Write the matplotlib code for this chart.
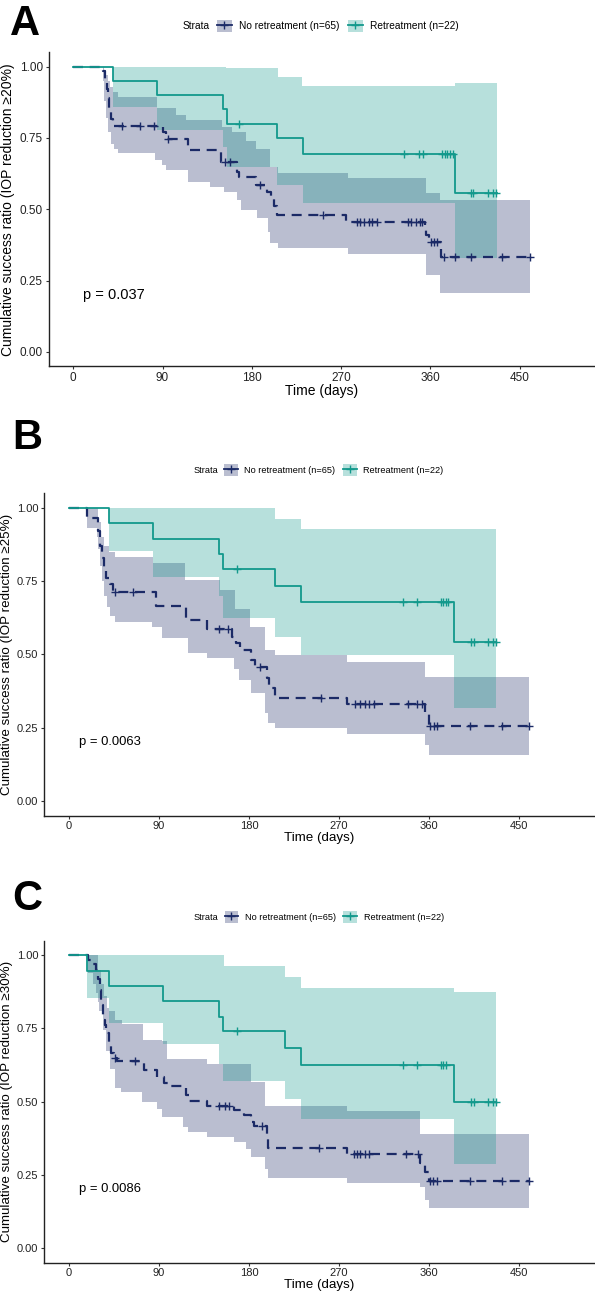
import numpy as np
import matplotlib
matplotlib.use("Agg")
import matplotlib.pyplot as plt
from matplotlib.patches import Patch
from matplotlib.lines import Line2D

plt.rcParams.update({"font.family": ["Liberation Sans", "DejaVu Sans"]})

NAVY, TEAL = "#1B2A66", "#12998C"
W, H = 595, 1297

# ---------------- data (days, survival) ----------------
# Panel A  (IOP reduction >=20%)
A_NR_T = [0, 29.6, 31.9, 33.6, 35, 36.3, 38.3, 40, 90.6, 93, 115.8, 149.4, 165, 167, 184.7,
          194.8, 199, 202, 205, 275.4, 354.4, 356, 359, 370.5]
A_NR_S = [1.0, 0.985, 0.954, 0.92, 0.89, 0.846, 0.815, 0.792, 0.77, 0.745, 0.708, 0.667, 0.63,
          0.614, 0.585, 0.562, 0.535, 0.51, 0.48, 0.457, 0.43, 0.41, 0.386, 0.332]
A_NR_CENS = [48.7, 67.2, 81.6, 95, 152.8, 157.8, 188, 251.3, 285.6, 289, 293.6, 297.7, 301.1,
             306.3, 337.2, 340.6, 345.8, 349.1, 351.7, 361, 364, 367, 373.3, 385.3, 400.8,
             432.7, 460.2]
A_NR_LO_T = [0, 29.6, 31, 33, 35, 38, 41, 45, 82.8, 89.7, 93.1, 115.5, 137.8, 151.6, 165.3,
             168.8, 185.3, 196, 198, 206.6, 277, 356, 369.8]
A_NR_LO = [1.0, 0.95, 0.88, 0.82, 0.77, 0.73, 0.71, 0.696, 0.673, 0.655, 0.638, 0.597, 0.579,
           0.562, 0.533, 0.498, 0.468, 0.42, 0.381, 0.363, 0.343, 0.27, 0.205]
A_NR_HI_T = [0, 29.6, 31, 33, 35, 37, 40, 45, 84, 104, 114, 150, 160, 174.6, 184.7, 198, 206,
             277, 356, 370]
A_NR_HI = [1.0, 1.0, 0.99, 0.97, 0.95, 0.93, 0.912, 0.895, 0.854, 0.83, 0.813, 0.79, 0.77,
           0.74, 0.71, 0.65, 0.626, 0.609, 0.556, 0.533]
A_R_T = [0, 40.3, 84, 150.5, 154.5, 205.8, 231.3, 384.6]
A_R_S = [1.0, 0.95, 0.90, 0.852, 0.80, 0.749, 0.694, 0.556]
A_R_CENS = [166.9, 333.7, 348.1, 352.2, 371.5, 374.3, 377, 379.8, 382.6, 400.8, 403.5, 417.9,
            423, 426.6]
A_R_LO_T = [0, 40.3, 84, 150.5, 154.5, 205.8, 231.3, 384.6]
A_R_LO = [1.0, 0.86, 0.778, 0.72, 0.65, 0.585, 0.521, 0.328]
A_R_HI_T = [0, 154, 206, 231, 385]
A_R_HI = [1.0, 0.994, 0.965, 0.932, 0.942]

# Panel B  (IOP reduction >=25%)
B_NR_T = [0, 18.3, 29.3, 31, 32.7, 35, 37, 41, 44, 86.6, 116.6, 137.8, 163.4, 166.8, 171, 182,
          186, 197.5, 200, 206, 277.7, 355.5, 359.6]
B_NR_S = [1.0, 0.966, 0.92, 0.87, 0.83, 0.79, 0.76, 0.74, 0.714, 0.665, 0.617, 0.585, 0.56,
          0.539, 0.515, 0.481, 0.458, 0.42, 0.385, 0.35, 0.331, 0.30, 0.257]
B_NR_CENS = [46, 64.4, 149.7, 158.6, 190.7, 252, 286.2, 291.3, 295.8, 299.9, 305, 339.1, 347.7,
             352.8, 361.3, 364.7, 368.1, 400.6, 433, 460.3]
B_NR_LO_T = [0, 18.3, 27.7, 29.3, 31, 33, 35, 38, 41, 45.6, 83.2, 93.4, 119, 137.8, 165, 170,
             182, 195.8, 199.2, 206, 277.7, 355.5, 359.6]
B_NR_LO = [1.0, 0.93, 0.90, 0.86, 0.80, 0.75, 0.70, 0.66, 0.63, 0.611, 0.593, 0.555, 0.504,
           0.487, 0.45, 0.413, 0.367, 0.30, 0.265, 0.248, 0.228, 0.191, 0.157]
B_NR_HI_T = [0, 29, 32, 35, 40, 46, 84.3, 116, 151, 166, 181, 195.8, 206, 277.7, 355.5]
B_NR_HI = [1.0, 0.95, 0.9, 0.87, 0.85, 0.833, 0.81, 0.753, 0.719, 0.655, 0.594, 0.515, 0.498,
           0.475, 0.424]
B_R_T = [0, 40.3, 84.3, 150, 153.7, 206.3, 231.6, 385.2]
B_R_S = [1.0, 0.947, 0.893, 0.842, 0.79, 0.733, 0.677, 0.541]
B_R_CENS = [167.7, 334, 347.7, 371.5, 374, 376.7, 379.4, 402.3, 405, 419.3, 424.4, 427.2]
B_R_LO_T = [0, 40.3, 84.3, 150, 153.7, 206.3, 231.6, 385.2]
B_R_LO = [1.0, 0.852, 0.765, 0.70, 0.625, 0.56, 0.498, 0.316]
B_R_HI_T = [0, 154.9, 206.1, 231.6]
B_R_HI = [1.0, 0.998, 0.961, 0.926]

# Panel C  (IOP reduction >=30%)
C_NR_T = [0, 19.3, 24, 27, 29.2, 30.5, 32, 34, 35.5, 37, 39.5, 42, 45, 48, 74.6, 88.3, 95, 99,
          116.6, 120, 137.8, 165, 175.3, 182, 185, 197.5, 199, 277.7, 351, 355.5, 359.6]
C_NR_S = [1.0, 0.985, 0.97, 0.95, 0.92, 0.88, 0.83, 0.78, 0.76, 0.733, 0.69, 0.665, 0.65, 0.639,
          0.608, 0.583, 0.565, 0.554, 0.523, 0.503, 0.486, 0.47, 0.455, 0.43, 0.418, 0.38, 0.341,
          0.322, 0.29, 0.26, 0.228]
C_NR_CENS = [45.6, 66, 149.7, 156, 160, 193, 250.4, 284.5, 288, 291.3, 295.8, 299.9, 337.4,
             349.4, 361, 364, 368, 400.6, 433, 460.3]
C_NR_LO_T = [0, 19.3, 24, 27, 29.2, 30.2, 33.7, 37, 40.5, 45.6, 52.4, 72.9, 88.3, 93.4, 113.9,
             119, 137.8, 165, 177, 182, 195.8, 199, 277.7, 351, 355.5, 359.6]
C_NR_LO = [1.0, 0.94, 0.90, 0.87, 0.84, 0.81, 0.746, 0.673, 0.611, 0.548, 0.531, 0.497, 0.474,
           0.446, 0.412, 0.395, 0.378, 0.361, 0.338, 0.31, 0.27, 0.24, 0.223, 0.209, 0.163, 0.135]
C_NR_HI_T = [0, 29, 32, 35, 38, 40.3, 46, 52.7, 74.3, 93.4, 98, 138, 182, 196, 277.7, 351]
C_NR_HI = [1.0, 0.95, 0.9, 0.86, 0.82, 0.808, 0.78, 0.764, 0.71, 0.707, 0.644, 0.627, 0.567,
           0.486, 0.469, 0.39]
C_R_T = [0, 18.3, 40.3, 94.3, 150, 153.7, 216, 231.6, 385.2]
C_R_S = [1.0, 0.947, 0.896, 0.842, 0.789, 0.741, 0.682, 0.625, 0.50]
C_R_CENS = [167.7, 334, 347.7, 371.5, 374, 376.7, 402.3, 405, 419.3, 424.4, 427.2]
C_R_LO_T = [0, 18.3, 40.3, 94.3, 150, 153.7, 216, 231.6, 385.2]
C_R_LO = [1.0, 0.854, 0.769, 0.695, 0.63, 0.571, 0.508, 0.44, 0.288]
C_R_HI_T = [0, 154.9, 215.6, 232, 385.2]
C_R_HI = [1.0, 0.964, 0.927, 0.888, 0.876]

NR_END, R_END = 460.2, 427.0
X_TICKS = [0, 90, 180, 270, 360, 450]
Y_TICKS = [0.0, 0.25, 0.5, 0.75, 1.0]
Y_TICKLABELS = ["0.00", "0.25", "0.50", "0.75", "1.00"]
STRATA = ["No retreatment (n=65)", "Retreatment (n=22)"]
PANELS = [
    dict(letter="A", thr="20%", p="p = 0.037",
         nr=(A_NR_T, A_NR_S, A_NR_CENS, A_NR_LO_T, A_NR_LO, A_NR_HI_T, A_NR_HI),
         r=(A_R_T, A_R_S, A_R_CENS, A_R_LO_T, A_R_LO, A_R_HI_T, A_R_HI)),
    dict(letter="B", thr="25%", p="p = 0.0063",
         nr=(B_NR_T, B_NR_S, B_NR_CENS, B_NR_LO_T, B_NR_LO, B_NR_HI_T, B_NR_HI),
         r=(B_R_T, B_R_S, B_R_CENS, B_R_LO_T, B_R_LO, B_R_HI_T, B_R_HI)),
    dict(letter="C", thr="30%", p="p = 0.0086",
         nr=(C_NR_T, C_NR_S, C_NR_CENS, C_NR_LO_T, C_NR_LO, C_NR_HI_T, C_NR_HI),
         r=(C_R_T, C_R_S, C_R_CENS, C_R_LO_T, C_R_LO, C_R_HI_T, C_R_HI)),
]

# layout in pixels: axes box (left, top, right, bottom), letter baseline, legend row;
# panel A was exported with slightly larger text than B and C
LAYOUT = [
    dict(box=(48.5, 52.4, 594, 366.2), letter=(10, 35), leg_y=26, strata_x=183, key_x=216.5,
         ylab_x=8, fs_leg=7.3, fs_tick=8.5, fs_lab=10, fs_p=10.5),
    dict(box=(44, 493, 594, 815.7), letter=(12, 449), leg_y=470, strata_x=193.5, key_x=224,
         ylab_x=7, fs_leg=6.6, fs_tick=8, fs_lab=9.6, fs_p=9.4),
    dict(box=(44, 940.6, 594, 1262.5), letter=(12, 910), leg_y=917, strata_x=194, key_x=224.5,
         ylab_x=7, fs_leg=6.6, fs_tick=8, fs_lab=9.6, fs_p=9.4),
]


def step_val(ts, vs, t):
    i = np.searchsorted(ts, t, side="right") - 1
    return np.asarray(vs)[i]


def draw_band(ax, grp, end, color):
    t, s, cens, lo_t, lo, hi_t, hi = grp
    grid = np.union1d(np.union1d(lo_t, hi_t), [end])
    ax.fill_between(grid, step_val(lo_t, lo, grid), step_val(hi_t, hi, grid),
                    step="post", color=color, alpha=0.3, lw=0)


def draw_curve(ax, grp, end, color, dashed):
    t, s, cens, *_ = grp
    tt = np.append(t, end)
    ss = np.append(s, s[-1])
    ln, = ax.step(tt, ss, where="post", color=color, lw=1.6 if dashed else 1.3)
    if dashed:
        ln.set_dashes((4.5, 3))
    ax.plot(cens, step_val(t, s, cens), "+", color=color, ms=5.5, mew=1.0, lw=0)


fig = plt.figure(figsize=(W / 100, H / 100), dpi=100)

for pan, lay in zip(PANELS, LAYOUT):
    l, t, r, b = lay["box"]
    ax = fig.add_axes([l / W, 1 - b / H, (r - l) / W, (b - t) / H])
    draw_band(ax, pan["nr"], NR_END, NAVY)
    draw_band(ax, pan["r"], R_END, TEAL)
    draw_curve(ax, pan["nr"], NR_END, NAVY, True)
    draw_curve(ax, pan["r"], R_END, TEAL, False)
    ax.set_xlim(-25, 525)
    ax.set_ylim(-0.05, 1.05)
    ax.set_xticks(X_TICKS)
    ax.set_yticks(Y_TICKS)
    ax.set_yticklabels(Y_TICKLABELS)
    for sp in ["top", "right"]:
        ax.spines[sp].set_visible(False)
    for sp in ["left", "bottom"]:
        ax.spines[sp].set_linewidth(1.0)
        ax.spines[sp].set_color("#222222")
    ax.tick_params(length=2.5, width=0.8, color="#333333", labelsize=lay["fs_tick"],
                   labelcolor="#222222", pad=1.5)
    ax.set_xlabel("Time (days)", fontsize=lay["fs_lab"], labelpad=0.5)
    ax.text(10, 0.2, pan["p"], fontsize=lay["fs_p"], ha="left", va="center")

    # y label, panel letter and the legend row are placed in figure pixels
    fig.text(lay["ylab_x"] / W, 1 - (t + b) / 2 / H,
             "Cumulative success ratio (IOP reduction \u2265" + pan["thr"] + ")",
             rotation=90, ha="center", va="center", fontsize=lay["fs_lab"])
    lx, ly = lay["letter"]
    fig.text(lx / W, 1 - ly / H, pan["letter"], fontsize=30, fontweight="bold",
             ha="left", va="baseline")
    fs = lay["fs_leg"]
    fig.text(lay["strata_x"] / W, 1 - lay["leg_y"] / H, "Strata", fontsize=fs,
             ha="left", va="center")
    handles = [(Patch(facecolor=NAVY, alpha=0.3, lw=0),
                Line2D([], [], color=NAVY, marker="+", lw=1.3, ms=6)),
               (Patch(facecolor=TEAL, alpha=0.3, lw=0),
                Line2D([], [], color=TEAL, marker="+", lw=1.3, ms=6))]
    fig.legend(handles, STRATA, loc="center left",
               bbox_to_anchor=(lay["key_x"] / W, 1 - lay["leg_y"] / H),
               ncol=2, frameon=False, fontsize=fs, handlelength=1.5, handleheight=1.5,
               handletextpad=0.7, columnspacing=0.85, borderpad=0, borderaxespad=0)

fig.savefig("out.png", dpi=100)
